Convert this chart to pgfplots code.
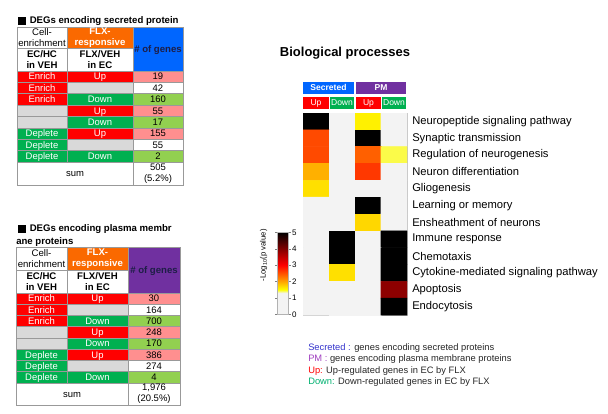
\documentclass[border=0pt]{standalone}
\usepackage{pgfplots}
\pgfplotsset{compat=1.18}
\usepackage{fontspec}
\setmainfont{Liberation Sans}

\definecolor{tred}{RGB}{255,0,0}
\definecolor{tgreen}{RGB}{0,176,80}
\definecolor{tgray}{RGB}{217,217,217}
\definecolor{torange}{RGB}{250,105,0}
\definecolor{tblue}{RGB}{0,102,255}
\definecolor{tpurple}{RGB}{112,48,160}
\definecolor{tpink}{RGB}{255,143,143}
\definecolor{tlgreen}{RGB}{146,208,80}
\definecolor{hdtext}{RGB}{30,30,70}
\definecolor{legblue}{RGB}{51,51,204}
\definecolor{legpurple}{RGB}{160,64,192}
\definecolor{legred}{RGB}{255,0,0}
\definecolor{leggreen}{RGB}{0,176,112}

\newcommand\tf{\fontsize{7.2}{8.4}\selectfont}
\newcommand\df{\fontsize{7.1}{8}\selectfont}
\newcommand\hf{\fontsize{6.4}{7}\selectfont}
\newcommand\lf{\fontsize{7}{8}\selectfont}

% multi-line cell
\newcommand\mcell[8]{%
 \filldraw[fill=#5,draw=gray!80,line width=0.4pt] (#1,#2) rectangle (#3,#4);
 \node[text=#6,font=#7,align=center,inner sep=0pt] at ({(#1+#3)/2},{(#2+#4)/2}) {#8};}
% single-line cell
\newcommand\cell[8]{%
 \filldraw[fill=#5,draw=gray!80,line width=0.4pt] (#1,#2) rectangle (#3,#4);
 \node[text=#6,font=#7,inner sep=0pt,text height=5.2pt,text depth=0.4pt] at ({(#1+#3)/2},{(#2+#4)/2}) {#8};}

\begin{document}
\begin{tikzpicture}
\begin{scope}[x=0.75pt,y=-0.75pt]
% ---------- Table 1 ----------
\fill (18,17) rectangle (26,25);
\node[anchor=west,font=\tf\bfseries,inner sep=0pt] at (29.5,21) {DEGs encoding secreted protein};
\mcell{17}{27}{67}{48}{white}{black}{\tf}{Cell-\\enrichment}
\mcell{67}{27}{133}{48}{torange}{white}{\tf\bfseries}{FLX-\\responsive}
\mcell{17}{48}{67}{71}{white}{black}{\tf\bfseries}{EC/HC\\in VEH}
\mcell{67}{48}{133}{71}{white}{black}{\tf\bfseries}{FLX/VEH\\in EC}
\cell{133}{27}{183}{71}{tblue}{hdtext}{\tf\bfseries}{\# of genes}
\foreach \ya/\yb/\fa/\ta/\fb/\tb/\fc/\tc in {
 71/82.375/tred/Enrich/tred/Up/tpink/19,
 82.375/93.75/tred/Enrich/tgray//white/42,
 93.75/105.125/tred/Enrich/tgreen/Down/tlgreen/160,
 105.125/116.5/tgray//tred/Up/tpink/55,
 116.5/127.875/tgray//tgreen/Down/tlgreen/17,
 127.875/139.25/tgreen/Deplete/tred/Up/tpink/155,
 139.25/150.625/tgreen/Deplete/tgray//white/55,
 150.625/162/tgreen/Deplete/tgreen/Down/tlgreen/2}
{\cell{17}{\ya}{67}{\yb}{\fa}{white}{\df}{\ta}
 \cell{67}{\ya}{133}{\yb}{\fb}{white}{\df}{\tb}
 \cell{133}{\ya}{183}{\yb}{\fc}{black}{\df}{\tc}}
\cell{17}{162}{133}{185}{white}{black}{\df}{sum}
\mcell{133}{162}{183}{185}{white}{black}{\df}{505\\(5.2\%)}
% ---------- Table 2 ----------
\fill (18,225) rectangle (26,233);
\node[anchor=west,font=\tf\bfseries,inner sep=0pt] at (29.5,229) {DEGs encoding plasma membr};
\node[anchor=west,font=\tf\bfseries,inner sep=0pt] at (16,242) {ane proteins};
\mcell{16}{247}{67}{270}{white}{black}{\tf}{Cell-\\enrichment}
\mcell{67}{247}{128}{270}{torange}{white}{\tf\bfseries}{FLX-\\responsive}
\mcell{16}{270}{67}{293}{white}{black}{\tf\bfseries}{EC/HC\\in VEH}
\mcell{67}{270}{128}{293}{white}{black}{\tf\bfseries}{FLX/VEH\\in EC}
\cell{128}{247}{180}{293}{tpurple}{hdtext}{\tf\bfseries}{\# of genes}
\foreach \ya/\yb/\fa/\ta/\fb/\tb/\fc/\tc in {
 293/304.25/tred/Enrich/tred/Up/tpink/30,
 304.25/315.5/tred/Enrich/tgray//white/164,
 315.5/326.75/tred/Enrich/tgreen/Down/tlgreen/700,
 326.75/338/tgray//tred/Up/tpink/248,
 338/349.25/tgray//tgreen/Down/tlgreen/170,
 349.25/360.5/tgreen/Deplete/tred/Up/tpink/386,
 360.5/371.75/tgreen/Deplete/tgray//white/274,
 371.75/383/tgreen/Deplete/tgreen/Down/tlgreen/4}
{\cell{16}{\ya}{67}{\yb}{\fa}{white}{\df}{\ta}
 \cell{67}{\ya}{128}{\yb}{\fb}{white}{\df}{\tb}
 \cell{128}{\ya}{180}{\yb}{\fc}{black}{\df}{\tc}}
\cell{16}{383}{128}{405}{white}{black}{\df}{sum}
\mcell{128}{383}{180}{405}{white}{black}{\df}{1,976\\(20.5\%)}
% ---------- Heatmap headers ----------
\node[font=\fontsize{9.75}{11}\selectfont\bfseries] at (345,53) {Biological processes};
\fill[tblue] (303,82) rectangle (354,94);
\node[font=\hf\bfseries,text=white,inner sep=0pt,text height=4.7pt,text depth=0.3pt] at (328.5,88) {Secreted};
\fill[tpurple] (356,82) rectangle (406,94);
\node[font=\hf\bfseries,text=white,inner sep=0pt,text height=4.7pt,text depth=0.3pt] at (381,88) {PM};
\fill[tred] (303,97) rectangle (329,109);
\node[font=\hf,text=white,inner sep=0pt,text height=4.7pt,text depth=0.3pt] at (316,103) {Up};
\fill[tgreen] (330,97) rectangle (354,109);
\node[font=\hf,text=white,inner sep=0pt,text height=4.7pt,text depth=0.3pt] at (342,103) {Down};
\fill[tred] (356,97) rectangle (381,109);
\node[font=\hf,text=white,inner sep=0pt,text height=4.7pt,text depth=0.3pt] at (368.5,103) {Up};
\fill[tgreen] (382,97) rectangle (406,109);
\node[font=\hf,text=white,inner sep=0pt,text height=4.7pt,text depth=0.3pt] at (394,103) {Down};
% ---------- Legend text ----------
\node[anchor=west,font=\lf,inner sep=0pt,text=black!85] at (308,348) {\textcolor{legblue}{Secreted :} genes encoding secreted proteins};
\node[anchor=west,font=\lf,inner sep=0pt,text=black!85] at (308,359.5) {\textcolor{legpurple}{PM :} genes encoding plasma membrane proteins};
\node[anchor=west,font=\lf,inner sep=0pt,text=black!85] at (308,371) {\textcolor{legred}{Up:} Up-regulated genes in EC by FLX};
\node[anchor=west,font=\lf,inner sep=0pt,text=black!85] at (308,382.5) {\textcolor{leggreen}{Down:} Down-regulated genes in EC by FLX};
\end{scope}

\begin{axis}[
 at={(227.25pt,-236.25pt)}, anchor=south west,
 scale only axis, width=78pt, height=151.5pt,
 xmin=-0.5, xmax=3.5, ymin=-0.5, ymax=11.5, y dir=reverse,
 xtick=\empty, ytick={0,...,11},
 yticklabels={Neuropeptide signaling pathway, Synaptic transmission, Regulation of neurogenesis, Neuron differentiation, Gliogenesis, Learning or memory, Ensheathment of neurons, Immune response, Chemotaxis, Cytokine-mediated signaling pathway, Apoptosis, Endocytosis},
 yticklabel pos=right,
 major tick length=0pt,
 yticklabel style={font=\fontsize{8.4}{9}\selectfont, anchor=west, inner sep=0pt, xshift=3.75pt},
 axis line style={gray!50},
 colormap={hm}{rgb255(0pt)=(243,243,243); rgb255(13pt)=(243,243,243); rgb255(15pt)=(255,255,0); rgb255(20pt)=(255,165,0); rgb255(30pt)=(255,0,0); rgb255(40pt)=(128,0,0); rgb255(50pt)=(0,0,0)},
 point meta min=0, point meta max=5,
 colorbar,
 colorbar style={
  at={(parent axis.south west)}, anchor=south east,
  xshift=-19.3pt, yshift=0.5pt,
  scale only axis, width=8.7pt, height=61.5pt,
  ytick={0,1,2,3,4,5},
  yticklabel pos=right,
  major tick length=1.5pt, tick align=outside,
  yticklabel style={font=\fontsize{6}{6}\selectfont, /pgf/number format/assume math mode=true, inner sep=1pt},
  ylabel={-Log\textsubscript{10}(p value)},
  ylabel style={font=\fontsize{5.8}{6}\selectfont, at={(axis description cs:-0.45,0.72)}, anchor=south},
  axis line style={gray!60},
 },
]
\addplot[matrix plot*, mesh/cols=4, point meta=explicit] table[meta=c] {
x y c
0 0 5
1 0 0
2 0 1.58
3 0 0
0 1 2.55
1 1 0
2 1 5
3 1 0
0 2 2.55
1 2 0
2 2 2.42
3 2 1.44
0 3 1.94
1 3 0
2 3 2.66
3 3 0
0 4 1.67
1 4 0
2 4 0
3 4 0
0 5 0
1 5 0
2 5 5
3 5 0
0 6 0
1 6 0
2 6 1.72
3 6 0
0 7 0
1 7 5
2 7 0
3 7 5
0 8 0
1 8 5
2 8 0
3 8 5
0 9 0
1 9 1.67
2 9 0
3 9 5
0 10 0
1 10 0
2 10 0
3 10 3.9
0 11 0
1 11 0
2 11 0
3 11 5
};
\end{axis}
\pgfresetboundingbox
\path[use as bounding box] (0,0) rectangle (456pt,-310.5pt);
\end{tikzpicture}
\end{document}
